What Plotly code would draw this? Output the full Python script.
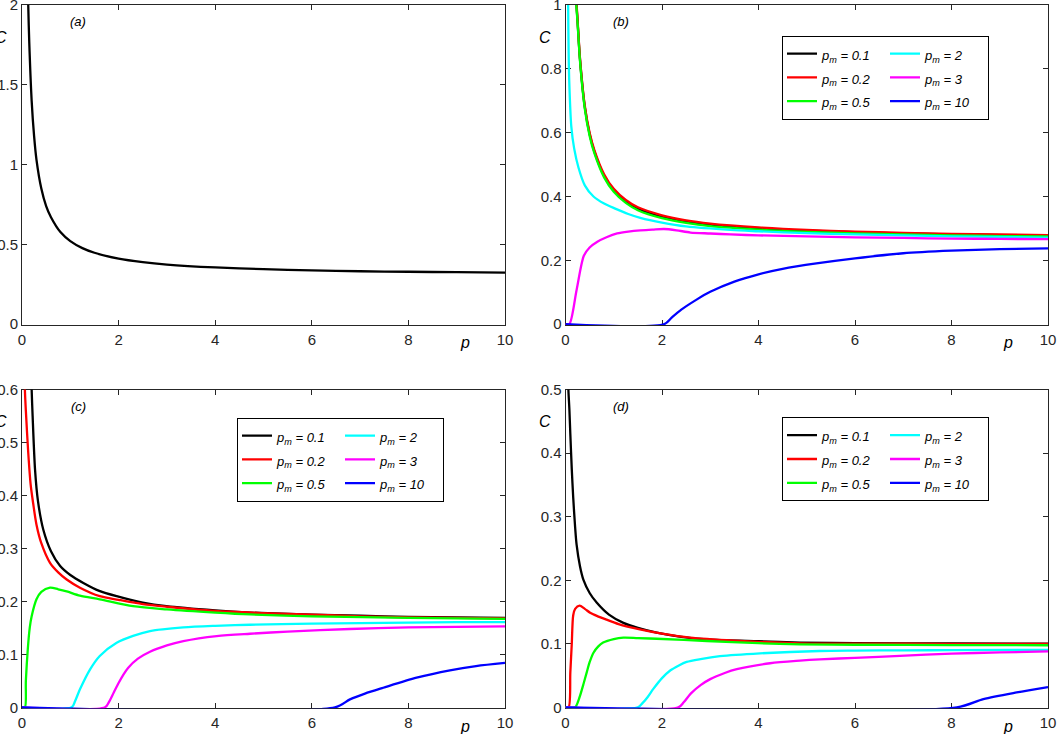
import plotly.graph_objects as go

# ---------------- data ----------------
pm_labels = ["0.1", "0.2", "0.5", "2", "3", "10"]
line_colors = ["#000000", "#ff0000", "#00ff00", "#00ffff", "#ff00ff", "#0000ff"]
x_ticks = [0, 2, 4, 6, 8, 10]

# panel (a)
pa = [0.1, 0.11, 0.13, 0.15, 0.2, 0.25, 0.3, 0.4, 0.5, 0.6, 0.8, 1.0, 1.25, 1.5, 2, 2.5, 3, 4, 5, 6, 7, 8, 9, 10]
Ca = [2.5, 2.30, 1.99, 1.77, 1.40, 1.18, 1.03, 0.85, 0.74, 0.67, 0.575, 0.52, 0.476, 0.447, 0.41, 0.388, 0.373, 0.355, 0.344, 0.337, 0.331, 0.328, 0.325, 0.322]

# panel (b)
pb_k = [0.18, 0.22, 0.25, 0.3, 0.4, 0.5, 0.6, 0.8, 1.0, 1.25, 1.5, 2, 2.5, 3, 4, 5, 6, 7, 8, 9, 10]
Cb_k = [1.2, 1.02, 0.95, 0.83, 0.68, 0.595, 0.54, 0.465, 0.42, 0.385, 0.362, 0.337, 0.322, 0.312, 0.300, 0.293, 0.288, 0.284, 0.281, 0.279, 0.277]
Cb_r = [1.2, 1.03, 0.955, 0.835, 0.685, 0.6, 0.545, 0.47, 0.424, 0.389, 0.366, 0.341, 0.325, 0.315, 0.303, 0.295, 0.290, 0.286, 0.283, 0.281, 0.279]
Cb_g = [1.2, 1.01, 0.945, 0.825, 0.675, 0.59, 0.535, 0.46, 0.415, 0.380, 0.357, 0.332, 0.317, 0.307, 0.296, 0.289, 0.284, 0.281, 0.278, 0.276, 0.275]
pb_c = [0.05, 0.055, 0.065, 0.08, 0.12, 0.18, 0.27, 0.4, 0.58, 0.8, 1.03, 1.3, 1.55, 2, 2.5, 3.42, 4, 5, 6, 7, 8, 9, 10]
Cb_c = [1.1, 1.0, 0.85, 0.75, 0.62, 0.55, 0.49, 0.435, 0.40, 0.378, 0.362, 0.345, 0.333, 0.318, 0.306, 0.295, 0.291, 0.285, 0.281, 0.278, 0.275, 0.273, 0.271]
pb_m = [0, 0.08, 0.23, 0.38, 0.5, 0.66, 0.85, 1.07, 1.3, 1.55, 1.8, 2.04, 2.3, 2.59, 3, 3.42, 4, 5, 6, 7, 8, 9, 10]
Cb_m = [0, 0, 0.107, 0.214, 0.24, 0.258, 0.272, 0.284, 0.29, 0.294, 0.296, 0.298, 0.294, 0.287, 0.284, 0.281, 0.278, 0.275, 0.272, 0.270, 0.268, 0.267, 0.266]
pb_b = [0, 2.05, 2.2, 2.4, 2.7, 3.0, 3.5, 4.0, 4.5, 5.2, 6, 7, 8, 9, 10]
Cb_b = [0, 0, 0.02, 0.045, 0.075, 0.101, 0.133, 0.156, 0.173, 0.19, 0.206, 0.222, 0.23, 0.235, 0.2375]

# panel (c)
pc_k = [0.18, 0.2, 0.22, 0.27, 0.33, 0.44, 0.6, 0.79, 1.0, 1.27, 1.6, 1.96, 2.5, 2.99, 4, 4.72, 6, 7, 8, 9, 10]
Cc_k = [0.68, 0.6, 0.55, 0.449, 0.39, 0.336, 0.295, 0.267, 0.25, 0.235, 0.22, 0.21, 0.198, 0.191, 0.183, 0.179, 0.175, 0.173, 0.171, 0.170, 0.169]
pc_r = [0.05, 0.06, 0.08, 0.13, 0.18, 0.23, 0.3, 0.4, 0.58, 0.75, 0.925, 1.2, 1.61, 2, 2.5, 3, 4, 5, 6, 7, 8, 9, 10]
Cc_r = [0.66, 0.6, 0.56, 0.48, 0.42, 0.386, 0.345, 0.31, 0.273, 0.255, 0.2415, 0.226, 0.21, 0.203, 0.195, 0.19, 0.182, 0.178, 0.175, 0.172, 0.170, 0.169, 0.168]
pc_g = [0, 0.06, 0.08, 0.12, 0.16, 0.2, 0.3, 0.4, 0.58, 0.75, 0.925, 1.2, 1.61, 2.3, 3.0, 4, 4.72, 6, 8, 10]
Cc_g = [0, 0, 0.05, 0.11, 0.15, 0.172, 0.204, 0.218, 0.226, 0.223, 0.219, 0.211, 0.204, 0.191, 0.185, 0.179, 0.1755, 0.172, 0.169, 0.167]
pc_c = [0, 1.03, 1.1, 1.2, 1.41, 1.61, 1.96, 2.3, 2.65, 3.34, 4, 4.72, 6, 7, 8, 9, 10]
Cc_c = [0, 0, 0.012, 0.034, 0.0717, 0.097, 0.122, 0.135, 0.144, 0.151, 0.154, 0.156, 0.158, 0.159, 0.160, 0.161, 0.161]
pc_m = [0, 1.72, 1.8, 1.9, 2.0, 2.1, 2.2, 2.4, 2.65, 3.0, 3.34, 4.03, 4.72, 5.5, 6.79, 8, 9, 10]
Cc_m = [0, 0, 0.01, 0.028, 0.046, 0.062, 0.075, 0.092, 0.105, 0.117, 0.125, 0.1345, 0.139, 0.143, 0.148, 0.151, 0.152, 0.153]
pc_b = [0, 6.48, 6.79, 7.1, 7.48, 8.17, 8.86, 9.4, 10]
Cc_b = [0, 0, 0.015, 0.026, 0.037, 0.056, 0.07, 0.078, 0.084]

# panel (d)
pd_k = [0.05, 0.06, 0.08, 0.1, 0.13, 0.16, 0.2, 0.23, 0.3, 0.37, 0.5, 0.65, 0.9, 1.2, 1.5, 1.89, 2.4, 2.93, 4, 4.86, 6, 8, 10]
Cd_k = [0.56, 0.5, 0.47, 0.43, 0.375, 0.330, 0.283, 0.256, 0.222, 0.201, 0.18, 0.1646, 0.146, 0.133, 0.125, 0.1176, 0.111, 0.107, 0.104, 0.102, 0.101, 0.1005, 0.1003]
pd_r = [0, 0.065, 0.1, 0.13, 0.16, 0.2, 0.29, 0.4, 0.51, 0.65, 0.85, 1.1, 1.54, 2, 2.58, 3.5, 4.86, 6, 8, 10]
Cd_r = [0, 0, 0.055, 0.10, 0.145, 0.155, 0.160, 0.155, 0.149, 0.144, 0.138, 0.131, 0.1227, 0.116, 0.1097, 0.105, 0.1008, 0.1003, 0.1, 0.1]
pd_g = [0, 0.2, 0.25, 0.3, 0.37, 0.44, 0.5, 0.58, 0.68, 0.78, 1.0, 1.2, 1.5, 1.89, 2.93, 4, 4.86, 6, 8, 10]
Cd_g = [0, 0, 0.007, 0.018, 0.036, 0.055, 0.071, 0.086, 0.096, 0.102, 0.1075, 0.1097, 0.109, 0.108, 0.1044, 0.101, 0.0992, 0.0985, 0.098, 0.0977]
pd_c = [0, 1.5, 1.6, 1.7, 1.82, 2.0, 2.17, 2.35, 2.51, 2.8, 3.2, 4.03, 5.27, 6, 7, 8, 10]
Cd_c = [0, 0, 0.007, 0.016, 0.029, 0.046, 0.058, 0.066, 0.0715, 0.076, 0.0805, 0.085, 0.0887, 0.0893, 0.0897, 0.09, 0.0905]
pd_m = [0, 2.34, 2.45, 2.6, 2.8, 3.0, 3.3, 3.55, 4.24, 4.86, 5.27, 6, 6.93, 8, 9, 10]
Cd_m = [0, 0, 0.008, 0.022, 0.035, 0.0444, 0.054, 0.06, 0.0694, 0.0735, 0.0755, 0.078, 0.081, 0.0845, 0.0865, 0.088]
pd_b = [0, 8.11, 8.66, 9.35, 10]
Cd_b = [0, 0, 0.013, 0.0235, 0.032]

# ---------------- figure ----------------
W, H = 1057, 734
FONT = "Liberation Sans"
AXC = "#262626"
LW = 2.3

fig = go.Figure()

fig.add_trace(go.Scatter(x=pa, y=Ca, mode="lines", xaxis="x", yaxis="y",
                         line=dict(color="#000000", width=LW, shape="spline", smoothing=0.8),
                         showlegend=False))

panels = [
    ("x2", "y2", "legend", "b",
     [(pb_k, Cb_k), (pb_k, Cb_r), (pb_k, Cb_g), (pb_c, Cb_c), (pb_m, Cb_m), (pb_b, Cb_b)]),
    ("x3", "y3", "legend2", "c",
     [(pc_k, Cc_k), (pc_r, Cc_r), (pc_g, Cc_g), (pc_c, Cc_c), (pc_m, Cc_m), (pc_b, Cc_b)]),
    ("x4", "y4", "legend3", "d",
     [(pd_k, Cd_k), (pd_r, Cd_r), (pd_g, Cd_g), (pd_c, Cd_c), (pd_m, Cd_m), (pd_b, Cd_b)]),
]
for xa, ya, leg, tag, series in panels:
    for i, (px, cy) in enumerate(series):
        fig.add_trace(go.Scatter(
            x=px, y=cy, mode="lines", xaxis=xa, yaxis=ya,
            line=dict(color=line_colors[i], width=LW, shape="spline", smoothing=0.8),
            name='<span style="font-size:13px"><i>p<sub>m</sub> = %s</i></span>' % pm_labels[i],
            legend=leg, legendgroup="%s%d" % (tag, 1 if i < 3 else 2),
        ))

xl = [22 / W, 505 / W]
xr = [565.5 / W, 1048 / W]
yt = [1 - 325 / H, 1 - 5 / H]
yb = [1 - 708.3 / H, 1 - 389.5 / H]


def xax(dom, anchor):
    return dict(domain=dom, range=[0, 10], tickvals=x_ticks, anchor=anchor,
                ticks="inside", ticklen=5, tickwidth=1, tickcolor=AXC,
                showline=True, linecolor=AXC, linewidth=1, mirror="allticks",
                showgrid=False, zeroline=False, layer="below traces",
                tickfont=dict(family=FONT, size=15, color=AXC), automargin=False,
                ticklabelstandoff=1, ticklabeloverflow="allow")


def yax(dom, top, step, anchor):
    n = int(round(top / step))
    vals = [round(k * step, 3) for k in range(n + 1)]
    return dict(domain=dom, range=[-0.003 * top, top * 1.0005], tickvals=vals, anchor=anchor,
                ticks="inside", ticklen=5, tickwidth=1, tickcolor=AXC,
                showline=True, linecolor=AXC, linewidth=1, mirror="allticks",
                showgrid=False, zeroline=False, layer="below traces",
                tickfont=dict(family=FONT, size=15, color=AXC), automargin=False,
                ticklabeloverflow="allow")


leg_common = dict(orientation="h", traceorder="grouped", xanchor="left", yanchor="top",
                  bgcolor="white", bordercolor="#000000", borderwidth=1,
                  font=dict(family=FONT, size=16, color="#000000"),
                  itemwidth=30, tracegroupgap=0, entrywidth=58, entrywidthmode="pixels")

fig.update_layout(
    width=W, height=H, template="none",
    paper_bgcolor="white", plot_bgcolor="white",
    margin=dict(l=0, r=0, t=0, b=0, pad=0),
    font=dict(family=FONT, color=AXC),
    xaxis=xax(xl, "y"), yaxis=yax(yt, 2.0, 0.5, "x"),
    xaxis2=xax(xr, "y2"), yaxis2=yax(yt, 1.0, 0.2, "x2"),
    xaxis3=xax(xl, "y3"), yaxis3=yax(yb, 0.6, 0.1, "x3"),
    xaxis4=xax(xr, "y4"), yaxis4=yax(yb, 0.5, 0.1, "x4"),
    legend=dict(leg_common, x=782 / W, y=1 - 35.7 / H),
    legend2=dict(leg_common, x=237 / W, y=1 - 417.7 / H),
    legend3=dict(leg_common, x=782 / W, y=1 - 417.3 / H),
    showlegend=True,
)

ann = []
for xa, ya, lab in [("x", "y", "(a)"), ("x2", "y2", "(b)"), ("x3", "y3", "(c)"), ("x4", "y4", "(d)")]:
    ann.append(dict(text="<i>%s</i>" % lab, xref="%s domain" % xa, yref="%s domain" % ya,
                    x=0.116, y=0.947, xanchor="center", yanchor="middle", showarrow=False,
                    font=dict(family=FONT, size=13, color="#000000")))
    ann.append(dict(text="<i>C</i>", xref="%s domain" % xa, yref="%s domain" % ya,
                    x=-0.0425, y=0.9, xanchor="center", yanchor="middle", showarrow=False,
                    font=dict(family=FONT, size=16, color="#000000")))
    ann.append(dict(text="<i>p</i>", xref="%s domain" % xa, yref="%s domain" % ya,
                    x=0.917, y=-0.056, xanchor="center", yanchor="middle", showarrow=False,
                    font=dict(family=FONT, size=16, color="#000000")))
fig.update_layout(annotations=ann)

fig.write_html("out.html", config={"displayModeBar": False},
               post_script="document.body.style.margin='0px';document.body.style.overflow='hidden';")
